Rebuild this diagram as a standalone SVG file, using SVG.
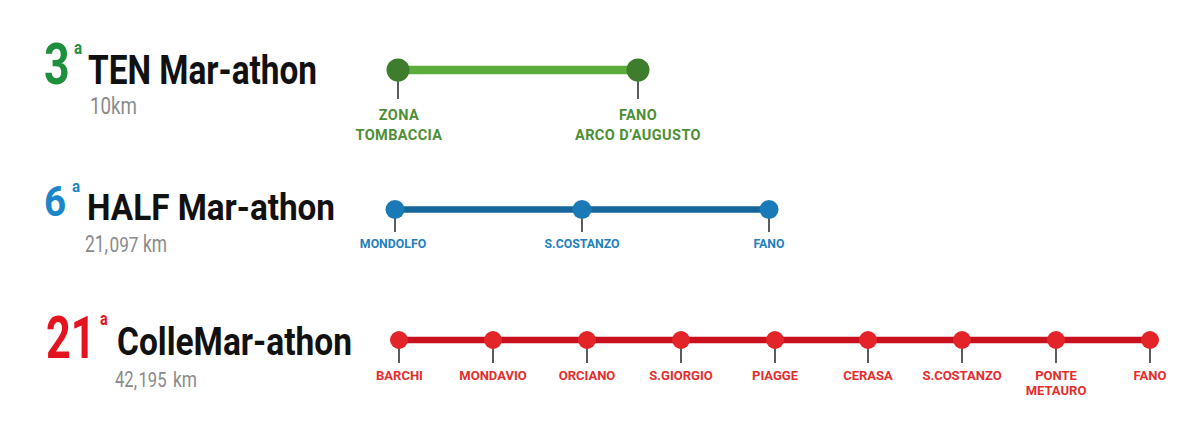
<svg xmlns="http://www.w3.org/2000/svg" width="1200" height="425" viewBox="0 0 1200 425">
<style>
.t{font-family:Roboto,"Liberation Sans",sans-serif;font-weight:700;fill:#111}
.n{font-family:Roboto,"Liberation Sans",sans-serif;font-weight:700}
.d{font-family:Roboto,"Liberation Sans",sans-serif;font-weight:400;fill:#8a8a8a}
.lb{font-family:Roboto,"Liberation Sans",sans-serif;font-weight:700;text-anchor:middle}
.tick{stroke:#333;stroke-width:1.6}
.g{fill:#4d8f35;letter-spacing:0.4px}.b{fill:#1f7fc0}.r{fill:#e52d2d}
</style>
<rect width="1200" height="425" fill="#fff"/>
<g id="titles">
<text class="n" transform="translate(44,83.5) scale(0.77,1)" font-size="58" fill="#1e8f3c">3</text>
<text class="n" transform="translate(74,54) scale(0.8,1)" font-size="19" fill="#1e8f3c">a</text>
<text class="t" x="88" y="83.5" font-size="40" textLength="229" lengthAdjust="spacingAndGlyphs">TEN Mar-athon</text>
<text class="d" x="90" y="113.5" font-size="24.5" textLength="47" lengthAdjust="spacingAndGlyphs">10km</text>
<text class="n" transform="translate(44,216) scale(0.92,1)" font-size="42" fill="#1b86c9">6</text>
<text class="n" transform="translate(72,192) scale(0.95,1)" font-size="16" fill="#1b86c9">a</text>
<text class="t" x="87" y="220" font-size="37" textLength="248" lengthAdjust="spacingAndGlyphs">HALF Mar-athon</text>
<text class="d" x="85" y="252" font-size="24" textLength="23" lengthAdjust="spacingAndGlyphs">21,</text>
<text class="d" x="109.5" y="252" font-size="21" textLength="29" lengthAdjust="spacingAndGlyphs">097</text>
<text class="d" x="143" y="252" font-size="24" textLength="24" lengthAdjust="spacingAndGlyphs">km</text>
<text class="n" transform="translate(46,358) scale(0.72,1)" font-size="60" fill="#e3141f">21</text>
<text class="n" transform="translate(100,325) scale(0.8,1)" font-size="18" fill="#e3141f">a</text>
<text class="t" x="117" y="355" font-size="38" textLength="235" lengthAdjust="spacingAndGlyphs">ColleMar-athon</text>
<text class="d" x="115" y="387" font-size="22.5" textLength="22" lengthAdjust="spacingAndGlyphs">42,</text>
<text class="d" x="138.5" y="387" font-size="20" textLength="28" lengthAdjust="spacingAndGlyphs">195</text>
<text class="d" x="173" y="387" font-size="22.5" textLength="24" lengthAdjust="spacingAndGlyphs">km</text>
</g>
<g id="connectors">
<line x1="398" y1="70" x2="638" y2="70" stroke="#5cac3d" stroke-width="8.5"/>
<line x1="395" y1="209.5" x2="769" y2="209.5" stroke="#16669e" stroke-width="6.5"/>
<line x1="399" y1="340" x2="1150" y2="340" stroke="#c8101e" stroke-width="6.5"/>
</g>
<g id="ten">
<g id="ten-zona"><line class="tick" x1="398" y1="70" x2="398" y2="99"/><circle cx="398" cy="70" r="11.5" fill="#3e7d2b"/><text class="lb g" x="399" y="120" font-size="14.5">ZONA</text><text class="lb g" x="399" y="140" font-size="14.5">TOMBACCIA</text></g>
<g id="ten-fano"><line class="tick" x1="638" y1="70" x2="638" y2="99"/><circle cx="638" cy="70" r="11.5" fill="#3e7d2b"/><text class="lb g" x="638" y="120" font-size="14.5">FANO</text><text class="lb g" x="638" y="140" font-size="14.5">ARCO D’AUGUSTO</text></g>
</g>
<g id="half">
<g id="half-mondolfo"><line class="tick" x1="395" y1="209" x2="395" y2="232"/><circle cx="395" cy="209.5" r="9.5" fill="#1a7ab8"/><text class="lb b" x="393" y="248" font-size="12.3">MONDOLFO</text></g>
<g id="half-scostanzo"><line class="tick" x1="582" y1="209" x2="582" y2="232"/><circle cx="582" cy="209.5" r="9.5" fill="#1a7ab8"/><text class="lb b" x="582" y="248" font-size="12.3">S.COSTANZO</text></g>
<g id="half-fano"><line class="tick" x1="769" y1="209" x2="769" y2="232"/><circle cx="769" cy="209.5" r="9.5" fill="#1a7ab8"/><text class="lb b" x="769" y="248" font-size="12.3">FANO</text></g>
</g>
<g id="colle">
<g id="c-barchi"><line class="tick" x1="399" y1="340" x2="399" y2="363"/><circle cx="399" cy="340" r="9" fill="#e32428"/><text class="lb r" x="399.5" y="380" font-size="13">BARCHI</text></g>
<g id="c-mondavio"><line class="tick" x1="493" y1="340" x2="493" y2="363"/><circle cx="493" cy="340" r="9" fill="#e32428"/><text class="lb r" x="493" y="380" font-size="13">MONDAVIO</text></g>
<g id="c-orciano"><line class="tick" x1="587" y1="340" x2="587" y2="363"/><circle cx="587" cy="340" r="9" fill="#e32428"/><text class="lb r" x="587" y="380" font-size="13">ORCIANO</text></g>
<g id="c-sgiorgio"><line class="tick" x1="681" y1="340" x2="681" y2="363"/><circle cx="681" cy="340" r="9" fill="#e32428"/><text class="lb r" x="681" y="380" font-size="13">S.GIORGIO</text></g>
<g id="c-piagge"><line class="tick" x1="775" y1="340" x2="775" y2="363"/><circle cx="775" cy="340" r="9" fill="#e32428"/><text class="lb r" x="775" y="380" font-size="13">PIAGGE</text></g>
<g id="c-cerasa"><line class="tick" x1="868" y1="340" x2="868" y2="363"/><circle cx="868" cy="340" r="9" fill="#e32428"/><text class="lb r" x="868" y="380" font-size="13">CERASA</text></g>
<g id="c-scostanzo"><line class="tick" x1="962" y1="340" x2="962" y2="363"/><circle cx="962" cy="340" r="9" fill="#e32428"/><text class="lb r" x="962" y="380" font-size="13">S.COSTANZO</text></g>
<g id="c-ponte"><line class="tick" x1="1056" y1="340" x2="1056" y2="363"/><circle cx="1056" cy="340" r="9" fill="#e32428"/><text class="lb r" x="1056" y="380" font-size="13">PONTE</text><text class="lb r" x="1056" y="395" font-size="13">METAURO</text></g>
<g id="c-fano"><line class="tick" x1="1150" y1="340" x2="1150" y2="363"/><circle cx="1150" cy="340" r="9" fill="#e32428"/><text class="lb r" x="1150" y="380" font-size="13">FANO</text></g>
</g>
</svg>
